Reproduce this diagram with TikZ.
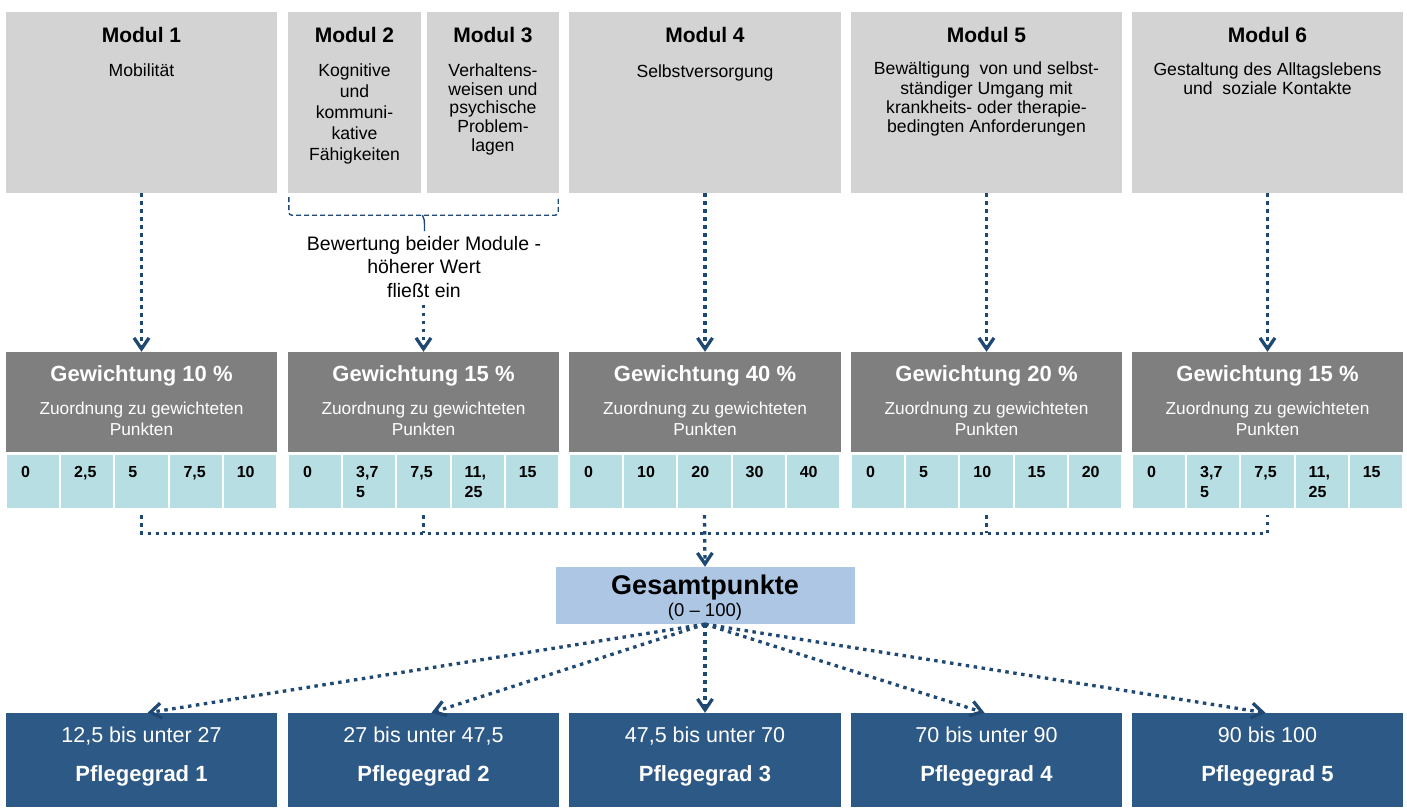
\documentclass[tikz,border=0pt]{standalone}
\usepackage{fontspec}
\setmainfont{Liberation Sans}
\usetikzlibrary{arrows.meta,calc}
\definecolor{modgray}{RGB}{211,211,211}
\definecolor{wgray}{RGB}{127,127,127}
\definecolor{cellteal}{RGB}{183,222,226}
\definecolor{gesblue}{RGB}{173,198,228}
\definecolor{pgblue}{RGB}{45,89,134}
\definecolor{arrowblue}{RGB}{31,73,115}
\tikzset{
  modbox/.style={fill=modgray, draw=none, inner sep=0pt, minimum height=181pt},
  modtitle/.style={inner sep=0pt, anchor=base, font=\bfseries\fontsize{21}{25}\selectfont},
  modbody/.style={inner sep=0pt, anchor=north, align=center},
  wbox/.style={fill=wgray, draw=none, inner sep=0pt, minimum width=271pt, minimum height=100pt},
  wtitle/.style={inner sep=0pt, anchor=base, text=white, font=\bfseries\fontsize{22}{26}\selectfont},
  wsub/.style={inner sep=0pt, anchor=north, align=center, text=white, font=\fontsize{17.3}{21.7}\selectfont},
  cellbox/.style={fill=cellteal, draw=none, inner sep=0pt, minimum width=52.2pt, minimum height=53pt},
  num/.style={inner sep=0pt, anchor=north west, align=left, font=\bfseries\fontsize{16}{20}\selectfont},
  gesbox/.style={fill=gesblue, draw=none, inner sep=0pt, minimum width=299pt, minimum height=57pt},
  pgbox/.style={fill=pgblue, draw=none, inner sep=0pt, minimum width=271pt, minimum height=94pt},
  pgrange/.style={inner sep=0pt, anchor=base, text=white, font=\fontsize{21.5}{25}\selectfont},
  pgname/.style={inner sep=0pt, anchor=base, text=white, font=\bfseries\fontsize{22}{26}\selectfont},
  flow/.style={draw=arrowblue, line width=3.3pt, dash pattern=on 3.5pt off 4.5pt, -{Straight Barb[length=11pt,width=15pt]}},
  dotline/.style={draw=arrowblue, line width=3.3pt, dash pattern=on 3.5pt off 4.5pt},
  bracketline/.style={draw=arrowblue, line width=1.4pt, dash pattern=on 5pt off 3pt, rounded corners=3pt},
}
\begin{document}
\begin{tikzpicture}[x=1pt,y=-1pt]
\useasboundingbox (0,0) rectangle (1407,807);
% module boxes
\node[modbox, minimum width=271pt] (m1) at (141.5,102.5) {};
\node[modbox, minimum width=133pt] (m2) at (354.5,102.5) {};
\node[modbox, minimum width=132pt] (m3) at (493,102.5) {};
\node[modbox, minimum width=272pt] (m4) at (705,102.5) {};
\node[modbox, minimum width=271pt] (m5) at (986.5,102.5) {};
\node[modbox, minimum width=271pt] (m6) at (1267.5,102.5) {};
\node[modtitle] (mt1) at (141.5,42.5) {Modul 1};
\node[modtitle] (mt2) at (354.5,42.5) {Modul 2};
\node[modtitle] (mt3) at (493,42.5) {Modul 3};
\node[modtitle] (mt4) at (705,42.5) {Modul 4};
\node[modtitle] (mt5) at (986.5,42.5) {Modul 5};
\node[modtitle] (mt6) at (1267.5,42.5) {Modul 6};
\node[modbody, font=\fontsize{17.6}{21}\selectfont] (mb1) at (141.5,63.4) {Mobilität};
\node[modbody, font=\fontsize{17.6}{21}\selectfont] (mb2) at (354.5,63.4) {Kognitive\\und\\kommuni-\\kative\\Fähigkeiten};
\node[modbody, font=\fontsize{17.6}{18.8}\selectfont] (mb3) at (493,63.4) {Verhaltens-\\weisen und\\psychische\\Problem-\\lagen};
\node[modbody, font=\fontsize{17.6}{21}\selectfont] (mb4) at (705,64.5) {Selbstversorgung};
\node[modbody, font=\fontsize{17.6}{19.3}\selectfont] (mb5) at (986.5,62) {Bewältigung\ \ von und selbst-\\ständiger Umgang mit\\krankheits- oder therapie-\\bedingten Anforderungen};
\node[modbody, font=\fontsize{17.6}{19}\selectfont] (mb6) at (1267.5,62.5) {Gestaltung des Alltagslebens\\und\ \ soziale Kontakte};
% bracket for modules 2 and 3
\draw[bracketline] ($(m2.south west)+(1,4)$) -- ($(m2.south west)+(1,22)$) -- ($(m3.south east)+(-1,22)$) -- ($(m3.south east)+(-1,4)$);
\draw[bracketline, solid] ($(m2.south west)!0.5!(m3.south east)+(-1,22)$) .. controls ($(m2.south west)!0.5!(m3.south east)+(1,26)$) .. ($(m2.south west)!0.5!(m3.south east)+(1,38)$);
\node[modbody, font=\fontsize{19.5}{23.5}\selectfont] (bew) at (424,235.8) {Bewertung beider Module -\\höherer Wert\\fließt ein};
% weighting boxes
\node[wbox] (g1) at (141.5,402) {};
\node[wbox] (g2) at (423.5,402) {};
\node[wbox, minimum width=272pt] (g3) at (705,402) {};
\node[wbox] (g4) at (986.5,402) {};
\node[wbox] (g5) at (1267.5,402) {};
\node[wtitle] (gt1) at (141.5,381) {Gewichtung 10 \%};
\node[wtitle] (gt2) at (423.5,381) {Gewichtung 15 \%};
\node[wtitle] (gt3) at (705,381) {Gewichtung 40 \%};
\node[wtitle] (gt4) at (986.5,381) {Gewichtung 20 \%};
\node[wtitle] (gt5) at (1267.5,381) {Gewichtung 15 \%};
\node[wsub] (gs1) at (141.5,401.4) {Zuordnung zu gewichteten\\Punkten};
\node[wsub] (gs2) at (423.5,401.4) {Zuordnung zu gewichteten\\Punkten};
\node[wsub] (gs3) at (705,401.4) {Zuordnung zu gewichteten\\Punkten};
\node[wsub] (gs4) at (986.5,401.4) {Zuordnung zu gewichteten\\Punkten};
\node[wsub] (gs5) at (1267.5,401.4) {Zuordnung zu gewichteten\\Punkten};
% cells
\foreach \b/\x in {1/6,2/288,3/569,4/851,5/1132} {
  \foreach \i in {0,...,4} {
    \node[cellbox] (c\b-\i) at ({\x+(\i+0.5)*54.2},481.5) {};
  }
}
\node[num] (n1-0) at ($(c1-0.north west)+(14,11.3)$) {0};
\node[num] (n1-1) at ($(c1-1.north west)+(13,11.3)$) {2,5};
\node[num] (n1-2) at ($(c1-2.north west)+(13,11.3)$) {5};
\node[num] (n1-3) at ($(c1-3.north west)+(14,11.3)$) {7,5};
\node[num] (n1-4) at ($(c1-4.north west)+(13,11.3)$) {10};
\node[num] (n2-0) at ($(c2-0.north west)+(14,11.3)$) {0};
\node[num] (n2-1) at ($(c2-1.north west)+(13,11.3)$) {3,7\\5};
\node[num] (n2-2) at ($(c2-2.north west)+(13,11.3)$) {7,5};
\node[num] (n2-3) at ($(c2-3.north west)+(13,11.3)$) {11,\\25};
\node[num] (n2-4) at ($(c2-4.north west)+(13,11.3)$) {15};
\node[num] (n3-0) at ($(c3-0.north west)+(14,11.3)$) {0};
\node[num] (n3-1) at ($(c3-1.north west)+(13,11.3)$) {10};
\node[num] (n3-2) at ($(c3-2.north west)+(13,11.3)$) {20};
\node[num] (n3-3) at ($(c3-3.north west)+(13,11.3)$) {30};
\node[num] (n3-4) at ($(c3-4.north west)+(13,11.3)$) {40};
\node[num] (n4-0) at ($(c4-0.north west)+(14,11.3)$) {0};
\node[num] (n4-1) at ($(c4-1.north west)+(13,11.3)$) {5};
\node[num] (n4-2) at ($(c4-2.north west)+(13,11.3)$) {10};
\node[num] (n4-3) at ($(c4-3.north west)+(13,11.3)$) {15};
\node[num] (n4-4) at ($(c4-4.north west)+(13,11.3)$) {20};
\node[num] (n5-0) at ($(c5-0.north west)+(14,11.3)$) {0};
\node[num] (n5-1) at ($(c5-1.north west)+(13,11.3)$) {3,7\\5};
\node[num] (n5-2) at ($(c5-2.north west)+(13,11.3)$) {7,5};
\node[num] (n5-3) at ($(c5-3.north west)+(13,11.3)$) {11,\\25};
\node[num] (n5-4) at ($(c5-4.north west)+(13,11.3)$) {15};
% total points
\node[gesbox] (ges) at (705,595.5) {};
\node[inner sep=0pt, anchor=base, font=\bfseries\fontsize{27}{31}\selectfont] (gest) at (705,594.7) {Gesamtpunkte};
\node[inner sep=0pt, anchor=base, font=\fontsize{18.5}{22}\selectfont] (gesr) at (705,616.8) {(0 – 100)};
% care grades
\node[pgbox] (p1) at (141.5,760) {};
\node[pgbox] (p2) at (423.5,760) {};
\node[pgbox, minimum width=272pt] (p3) at (705,760) {};
\node[pgbox] (p4) at (986.5,760) {};
\node[pgbox] (p5) at (1267.5,760) {};
\node[pgrange] (pr1) at (141.5,742.7) {12,5 bis unter 27};
\node[pgrange] (pr2) at (423.5,742.7) {27 bis unter 47,5};
\node[pgrange] (pr3) at (705,742.7) {47,5 bis unter 70};
\node[pgrange] (pr4) at (986.5,742.7) {70 bis unter 90};
\node[pgrange] (pr5) at (1267.5,742.7) {90 bis 100};
\node[pgname] (pn1) at (141.5,781) {Pflegegrad 1};
\node[pgname] (pn2) at (423.5,781) {Pflegegrad 2};
\node[pgname] (pn3) at (705,781) {Pflegegrad 3};
\node[pgname] (pn4) at (986.5,781) {Pflegegrad 4};
\node[pgname] (pn5) at (1267.5,781) {Pflegegrad 5};
% connectors
\draw[flow] (m1.south) -- (g1.north);
\draw[flow] ($(g2.north |- bew.south)+(0,7)$) -- (g2.north);
\draw[flow] (m4.south) -- (g3.north);
\draw[flow] (m5.south) -- (g4.north);
\draw[flow] (m6.south) -- (g5.north);
\draw[dotline] ($(c1-2.south)+(0,7)$) |- ($(c5-2.south)+(0,25)$) -- ($(c5-2.south)+(0,7)$);
\draw[dotline] ($(c2-2.south)+(0,7)$) -- ++(0,18);
\draw[dotline] ($(c4-2.south)+(0,7)$) -- ++(0,18);
\draw[flow] ($(c3-2.south)+(0,7)$) -- (ges.north);
\draw[flow] (ges.south) -- ($(p1.north)+(6,0)$);
\draw[flow] (ges.south) -- ($(p2.north)+(8,0)$);
\draw[flow] (ges.south) -- (p3.north);
\draw[flow] (ges.south) -- ($(p4.north)+(-2,0)$);
\draw[flow] (ges.south) -- ($(p5.north)+(-2,0)$);
\end{tikzpicture}
\end{document}
